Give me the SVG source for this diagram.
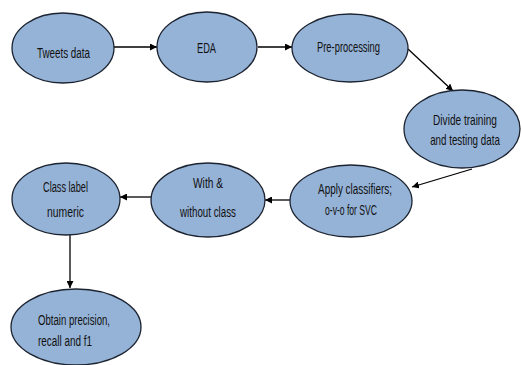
<svg xmlns="http://www.w3.org/2000/svg" width="522" height="365" viewBox="0 0 522 365">
<defs>
<marker id="ah" viewBox="0 0 10 10" refX="10" refY="5" markerWidth="7" markerHeight="7" markerUnits="userSpaceOnUse" orient="auto">
<path d="M0,0 L10,5 L0,10 z" fill="#000"/>
</marker>
<style>
.n{fill:#95b3d7;stroke:#1c2330;stroke-width:1.3}
.t{font-family:"Liberation Sans","Arial",sans-serif;font-size:14px;fill:#111}
.m{text-anchor:middle}
.c{stroke:#000;stroke-width:1.3;fill:none;marker-end:url(#ah)}
</style>
</defs>
<rect width="522" height="365" fill="#fff"/>
<g id="connectors">
<line class="c" x1="114" y1="47" x2="157" y2="47"/>
<line class="c" x1="258" y1="47" x2="292" y2="47"/>
<line class="c" x1="408" y1="49" x2="453" y2="91"/>
<line class="c" x1="472" y1="169" x2="412" y2="187"/>
<line class="c" x1="290" y1="200" x2="265" y2="200"/>
<line class="c" x1="152" y1="197" x2="120" y2="197"/>
<line class="c" x1="70" y1="235" x2="70" y2="288"/>
</g>
<g id="tweets">
<ellipse class="n" cx="63" cy="48" rx="51" ry="35"/>
<text class="t" x="37" y="58" textLength="53" lengthAdjust="spacingAndGlyphs">Tweets data</text>
</g>
<g id="eda">
<ellipse class="n" cx="207" cy="47" rx="50" ry="35"/>
<text class="t" x="197" y="53" textLength="19" lengthAdjust="spacingAndGlyphs">EDA</text>
</g>
<g id="preprocessing">
<ellipse class="n" cx="350" cy="48" rx="58" ry="34"/>
<text class="t" x="317" y="52" textLength="63" lengthAdjust="spacingAndGlyphs">Pre-processing</text>
</g>
<g id="divide">
<ellipse class="n" cx="462" cy="129" rx="58" ry="39"/>
<text class="t m" transform="translate(465,125) scale(0.72,1)">Divide training</text>
<text class="t m" transform="translate(465,145) scale(0.70,1)">and testing data</text>
</g>
<g id="apply">
<ellipse class="n" cx="351" cy="201" rx="61" ry="36"/>
<text class="t" x="318" y="194" textLength="74" lengthAdjust="spacingAndGlyphs">Apply classifiers;</text>
<text class="t" x="325" y="215" textLength="52" lengthAdjust="spacingAndGlyphs">o-v-o for SVC</text>
</g>
<g id="with">
<ellipse class="n" cx="208" cy="200" rx="57" ry="37"/>
<text class="t" x="193" y="188" textLength="30" lengthAdjust="spacingAndGlyphs">With &amp;</text>
<text class="t" x="180" y="217" textLength="56" lengthAdjust="spacingAndGlyphs">without class</text>
</g>
<g id="classlabel">
<ellipse class="n" cx="66" cy="199" rx="54" ry="36"/>
<text class="t" x="43" y="192" textLength="45" lengthAdjust="spacingAndGlyphs">Class label</text>
<text class="t" x="47" y="217" textLength="37" lengthAdjust="spacingAndGlyphs">numeric</text>
</g>
<g id="obtain">
<ellipse class="n" cx="76" cy="327" rx="65" ry="38"/>
<text class="t" x="38" y="325" textLength="72" lengthAdjust="spacingAndGlyphs">Obtain precision,</text>
<text class="t" x="38" y="346" textLength="54" lengthAdjust="spacingAndGlyphs">recall and f1</text>
</g>
</svg>
